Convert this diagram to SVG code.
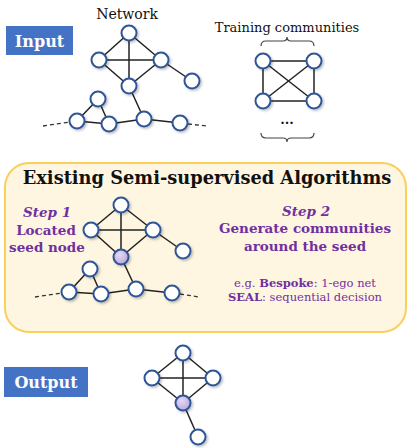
<svg xmlns="http://www.w3.org/2000/svg" width="408" height="448" viewBox="0 0 408 448">
<defs>
<filter id="sh" x="-50%" y="-50%" width="200%" height="200%"><feDropShadow dx="1.5" dy="1.5" stdDeviation="1" flood-color="#000" flood-opacity="0.25"/></filter>
<radialGradient id="seed" cx="0.4" cy="0.35" r="0.7"><stop offset="0" stop-color="#E4DAF4"/><stop offset="1" stop-color="#B9A5DD"/></radialGradient>
</defs>
<style>
.n{fill:#fff;stroke:#2F5597;stroke-width:2;filter:url(#sh)}
.s{fill:url(#seed);stroke:#2F5597;stroke-width:2;filter:url(#sh)}
.e{stroke:#222;stroke-width:1.5;fill:none}
.d{stroke:#333;stroke-width:1.3;stroke-dasharray:4 3;fill:none}
.lab{fill:#4472C4}
.lt{font-family:"DejaVu Serif",serif;font-weight:bold;fill:#fff;font-size:16px;text-anchor:middle}
.t{font-family:"DejaVu Serif",serif;fill:#111;text-anchor:middle}
.p{font-family:"DejaVu Serif",serif;fill:#7030A0;text-anchor:middle}
.b{font-weight:bold}
.br{stroke:#444;stroke-width:1.2;fill:none}
</style>
<g id="input-label"><rect class="lab" x="6" y="26" width="67" height="29"/><text class="lt" x="39.5" y="46.5">Input</text></g>
<g id="network-title"><text class="t" x="127" y="19" font-size="14">Network</text></g>
<g id="training-title"><text class="t" x="287" y="32" font-size="13">Training communities</text></g>
<rect id="algorithms-box" x="5" y="163" width="401" height="169" rx="24" fill="#FFF6E2" stroke="#F9CF5E" stroke-width="2"/>
<g id="connectors">
<line class="e" x1="129" y1="33" x2="99" y2="60"/><line class="e" x1="129" y1="33" x2="161" y2="60"/><line class="e" x1="129" y1="33" x2="129" y2="86"/><line class="e" x1="99" y1="60" x2="161" y2="60"/><line class="e" x1="99" y1="60" x2="129" y2="86"/><line class="e" x1="161" y1="60" x2="129" y2="86"/><line class="e" x1="161" y1="60" x2="192" y2="81"/><line class="e" x1="129" y1="86" x2="144" y2="119"/><line class="e" x1="98" y1="99" x2="77" y2="121"/><line class="e" x1="98" y1="99" x2="109" y2="124"/><line class="e" x1="77" y1="121" x2="109" y2="124"/><line class="e" x1="109" y1="124" x2="144" y2="119"/><line class="e" x1="144" y1="119" x2="180" y2="123"/>
<line class="d" x1="43" y1="126" x2="70" y2="122"/><line class="d" x1="188" y1="124" x2="207" y2="126"/>
<line class="e" x1="263" y1="61" x2="314" y2="61"/><line class="e" x1="263" y1="101" x2="314" y2="101"/><line class="e" x1="263" y1="61" x2="263" y2="101"/><line class="e" x1="314" y1="61" x2="314" y2="101"/><line class="e" x1="263" y1="61" x2="314" y2="101"/><line class="e" x1="314" y1="61" x2="263" y2="101"/>
<line class="e" x1="121" y1="205" x2="91" y2="230"/><line class="e" x1="121" y1="205" x2="153" y2="230"/><line class="e" x1="121" y1="205" x2="121" y2="257"/><line class="e" x1="91" y1="230" x2="153" y2="230"/><line class="e" x1="91" y1="230" x2="121" y2="257"/><line class="e" x1="153" y1="230" x2="121" y2="257"/><line class="e" x1="153" y1="230" x2="183" y2="251"/><line class="e" x1="121" y1="257" x2="136" y2="289"/><line class="e" x1="90" y1="269" x2="69" y2="292"/><line class="e" x1="90" y1="269" x2="101" y2="294"/><line class="e" x1="69" y1="292" x2="101" y2="294"/><line class="e" x1="101" y1="294" x2="136" y2="289"/><line class="e" x1="136" y1="289" x2="172" y2="293"/>
<line class="d" x1="35" y1="297" x2="62" y2="293"/><line class="d" x1="180" y1="294" x2="199" y2="297"/>
<line class="e" x1="183" y1="353" x2="152" y2="378"/><line class="e" x1="183" y1="353" x2="213" y2="378"/><line class="e" x1="183" y1="353" x2="183" y2="403"/><line class="e" x1="152" y1="378" x2="213" y2="378"/><line class="e" x1="152" y1="378" x2="183" y2="403"/><line class="e" x1="213" y1="378" x2="183" y2="403"/><line class="e" x1="183" y1="403" x2="198" y2="437"/>
</g>
<g id="network-nodes">
<circle class="n" cx="129" cy="33" r="7.5"/><circle class="n" cx="99" cy="60" r="7.5"/><circle class="n" cx="161" cy="60" r="7.5"/><circle class="n" cx="129" cy="86" r="7.5"/><circle class="n" cx="192" cy="81" r="7.5"/><circle class="n" cx="98" cy="99" r="7.5"/><circle class="n" cx="77" cy="121" r="7.5"/><circle class="n" cx="109" cy="124" r="7.5"/><circle class="n" cx="144" cy="119" r="7.5"/><circle class="n" cx="180" cy="123" r="7.5"/>
</g>
<g id="training-communities">
<path class="br" d="M261 46 Q261 41 266 41 L283 41 Q287 41 287 37 Q287 41 291 41 L309 41 Q314 41 314 46"/>
<circle class="n" cx="263" cy="61" r="7.5"/><circle class="n" cx="314" cy="61" r="7.5"/><circle class="n" cx="263" cy="101" r="7.5"/><circle class="n" cx="314" cy="101" r="7.5"/>
<text class="t b" x="287" y="124" font-size="13">...</text>
<path class="br" d="M261 133 Q261 138 266 138 L283 138 Q287 138 287 142 Q287 138 291 138 L309 138 Q314 138 314 133"/>
</g>
<g id="algorithms">
<text class="t b" x="207" y="184" font-size="17.8">Existing Semi-supervised Algorithms</text>
<text class="p b" x="47" y="217" font-size="13.5" font-style="italic">Step 1</text>
<text class="p b" x="46" y="235" font-size="13.5">Located</text>
<text class="p b" x="47" y="252" font-size="13.5">seed node</text>
<text class="p b" x="306" y="216" font-size="13.5" font-style="italic">Step 2</text>
<text class="p b" x="305" y="233" font-size="13.5">Generate communities</text>
<text class="p b" x="305" y="251" font-size="13.5">around the seed</text>
<text class="p" x="305" y="287" font-size="11.5">e.g. <tspan class="b">Bespoke</tspan>: 1-ego net</text>
<text class="p" x="305" y="301" font-size="11.5"><tspan class="b">SEAL</tspan>: sequential decision</text>
<circle class="n" cx="121" cy="205" r="7.5"/><circle class="n" cx="91" cy="230" r="7.5"/><circle class="n" cx="153" cy="230" r="7.5"/><circle class="s" cx="121" cy="257" r="7.5"/><circle class="n" cx="183" cy="251" r="7.5"/><circle class="n" cx="90" cy="269" r="7.5"/><circle class="n" cx="69" cy="292" r="7.5"/><circle class="n" cx="101" cy="294" r="7.5"/><circle class="n" cx="136" cy="289" r="7.5"/><circle class="n" cx="172" cy="293" r="7.5"/>
</g>
<g id="output-label"><rect class="lab" x="4" y="367" width="84" height="30"/><text class="lt" x="46" y="387.5">Output</text></g>
<g id="output-community">
<circle class="n" cx="183" cy="353" r="7.5"/><circle class="n" cx="152" cy="378" r="7.5"/><circle class="n" cx="213" cy="378" r="7.5"/><circle class="s" cx="183" cy="403" r="7.5"/><circle class="n" cx="198" cy="437" r="7.5"/>
</g>
</svg>
